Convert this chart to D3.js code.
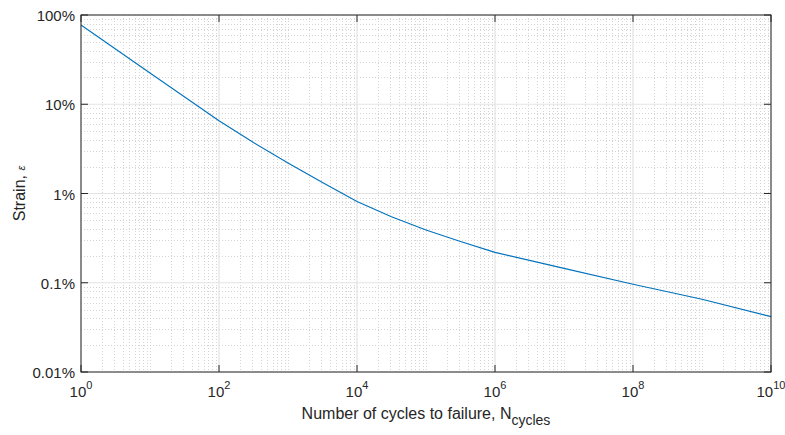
<!DOCTYPE html>
<html lang="en">
<head>
  <meta charset="UTF-8" />
  <title>Strain-life curve</title>
  <script src="https://d3js.org/d3.v7.min.js"></script>
  <style>
    body { margin: 0; background: #fff; font-family: "Liberation Sans", Arial, sans-serif; }
    svg { display: block; }
    .tick-label { font-size: 15px; fill: #262626; }
    .axis-title { font-size: 16px; fill: #262626; }
  </style>
</head>
<body>
<svg width="785" height="435"></svg>
<script>
  // values (strain in percent)
  const cycles = [1, 10, 100, 316, 1e3, 3160, 1e4, 31600, 1e5, 316000, 1e6, 1e7, 1e8, 1e9, 1e10];
  const strainPct = [77.2, 22.4, 6.54, 3.72, 2.2, 1.33, 0.815, 0.55, 0.39, 0.29, 0.219, 0.145, 0.096, 0.0653, 0.0417];
  const xTicks = [1, 1e2, 1e4, 1e6, 1e8, 1e10];
  const xTickExp = ["0", "2", "4", "6", "8", "10"];
  const yTicks = [0.01, 0.1, 1, 10, 100];
  const yTickLabels = ["0.01%", "0.1%", "1%", "10%", "100%"];

  const svg = d3.select("svg");
  const pLeft = 81, pRight = 771, pTop = 15, pBottom = 372;

  const x = d3.scaleLog().domain([1, 1e10]).range([pLeft, pRight]);
  const y = d3.scaleLog().domain([0.01, 100]).range([pBottom, pTop]);

  // minor grid values
  const xMinor = [];
  for (let e = 0; e < 10; e++) for (let m = 2; m <= 10; m++) xMinor.push(m * 10 ** e);
  const yMinor = [];
  for (let e = -2; e < 2; e++) for (let m = 2; m <= 10; m++) yMinor.push(+(m * 10 ** e).toPrecision(3));

  const grid = svg.append("g");
  grid.selectAll(".xm").data(xMinor.filter(v => !xTicks.includes(v))).join("line")
    .attr("x1", d => Math.round(x(d)) + 0.5).attr("x2", d => Math.round(x(d)) + 0.5)
    .attr("y1", pTop).attr("y2", pBottom)
    .attr("stroke", "#d4d4d4").attr("stroke-dasharray", "1,2");
  grid.selectAll(".ym").data(yMinor.filter(v => !yTicks.includes(v))).join("line")
    .attr("y1", d => Math.round(y(d)) + 0.5).attr("y2", d => Math.round(y(d)) + 0.5)
    .attr("x1", pLeft).attr("x2", pRight)
    .attr("stroke", "#d4d4d4").attr("stroke-dasharray", "1,2");
  grid.selectAll(".xM").data(xTicks).join("line")
    .attr("x1", d => x(d)).attr("x2", d => x(d))
    .attr("y1", pTop).attr("y2", pBottom)
    .attr("stroke", "#e3e3e3").attr("stroke-width", 1.2);
  grid.selectAll(".yM").data(yTicks).join("line")
    .attr("y1", d => y(d)).attr("y2", d => y(d))
    .attr("x1", pLeft).attr("x2", pRight)
    .attr("stroke", "#e3e3e3").attr("stroke-width", 1.2);

  // curve
  const line = d3.line().x(d => x(d[0])).y(d => y(d[1]));
  svg.append("path")
    .datum(cycles.map((c, i) => [c, strainPct[i]]))
    .attr("d", line)
    .attr("fill", "none")
    .attr("stroke", "#0072BD")
    .attr("stroke-width", 1.1);

  // box and ticks
  const axes = svg.append("g").attr("stroke", "#262626").attr("fill", "none");
  axes.append("rect").attr("x", pLeft).attr("y", pTop)
    .attr("width", pRight - pLeft).attr("height", pBottom - pTop).attr("stroke-width", 1);
  xTicks.forEach(v => {
    axes.append("line").attr("x1", x(v)).attr("x2", x(v)).attr("y1", pBottom).attr("y2", pBottom - 7);
    axes.append("line").attr("x1", x(v)).attr("x2", x(v)).attr("y1", pTop).attr("y2", pTop + 7);
  });
  yTicks.forEach(v => {
    axes.append("line").attr("y1", y(v)).attr("y2", y(v)).attr("x1", pLeft).attr("x2", pLeft + 7);
    axes.append("line").attr("y1", y(v)).attr("y2", y(v)).attr("x1", pRight).attr("x2", pRight - 7);
  });

  // y tick labels
  svg.selectAll(".ylab").data(yTicks).join("text")
    .attr("class", "tick-label")
    .attr("x", pLeft - 6).attr("y", d => y(d) + 6)
    .attr("text-anchor", "end")
    .text((d, i) => yTickLabels[i]);

  // x tick labels with superscript
  const xl = svg.selectAll(".xlab").data(xTicks).join("text")
    .attr("class", "tick-label")
    .attr("x", d => x(d)).attr("y", pBottom + 25)
    .attr("text-anchor", "middle");
  xl.append("tspan").text("10");
  xl.append("tspan").attr("dy", -8).attr("font-size", 11).text((d, i) => xTickExp[i]);

  // axis titles
  const xt = svg.append("text").attr("class", "axis-title")
    .attr("x", (pLeft + pRight) / 2).attr("y", 419).attr("text-anchor", "middle");
  xt.append("tspan").text("Number of cycles to failure, N");
  xt.append("tspan").attr("dy", 6).attr("font-size", 14).text("cycles");

  const yt = svg.append("text").attr("class", "axis-title")
    .attr("transform", `translate(25,${(pTop + pBottom) / 2}) rotate(-90)`)
    .attr("text-anchor", "middle");
  yt.append("tspan").text("Strain, ");
  yt.append("tspan").attr("font-size", 11).attr("font-style", "italic").text("ε");
</script>
</body>
</html>
